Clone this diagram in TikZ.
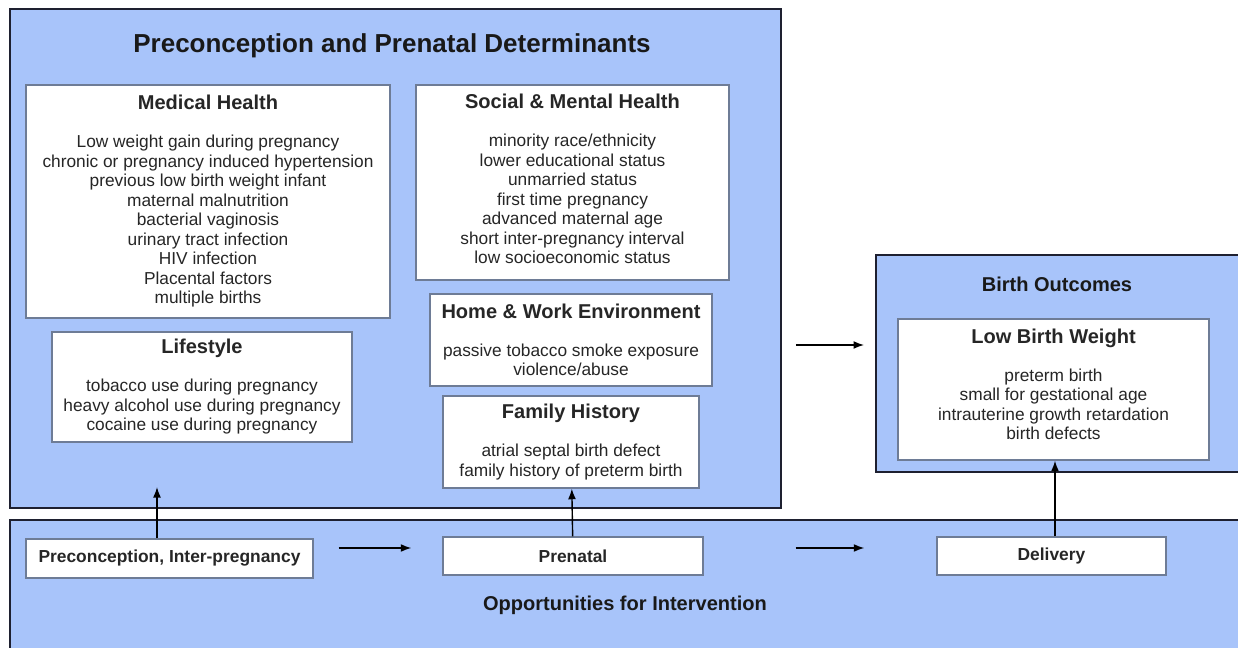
\documentclass[tikz,border=0pt]{standalone}
\usepackage{fontspec}
\setmainfont{Liberation Sans}
\usetikzlibrary{arrows.meta}

\definecolor{panelblue}{RGB}{168,196,250}
\definecolor{boxline}{RGB}{110,124,150}
\definecolor{darkline}{RGB}{30,32,48}
\newcommand{\boxhead}[1]{{\fontsize{11.4}{13}\selectfont\bfseries #1}}

\begin{document}
\begin{tikzpicture}[x=0.02cm, y=-0.02cm,
                    panel/.style={draw=darkline,line width=1.1pt,fill=panelblue,inner sep=0pt},
                    box/.style={draw=boxline,line width=0.8pt,fill=white,align=center,inner sep=0pt,
                                text=black!85,font=\fontsize{9.85}{11.1}\selectfont},
                    small box/.style={box,font=\fontsize{9.9}{11}\selectfont\bfseries},
                    big title/.style={font=\fontsize{14.8}{17}\selectfont\bfseries,text=black!90},
                    mid title/.style={font=\fontsize{11.4}{13}\selectfont\bfseries,text=black!90},
                    arr/.style={-{Latex[length=6pt,width=4.5pt]},line width=0.8pt}]

  \useasboundingbox (0,0) rectangle (1238,648);

  % the two background panels
  \node[panel,minimum width=15.42cm,minimum height=9.98cm] (det) at (395.5,258.5) {};
  \node[panel,minimum width=24.8cm,minimum height=2.8cm] (opp) at (630,590) {};
  \node[panel,minimum width=7.48cm,minimum height=4.34cm] (outc) at (1063,363.5) {};

  \node[big title] (dettitle) at (392,46) {Preconception and Prenatal Determinants};
  \node[mid title] (outctitle) at (1057,284) {Birth Outcomes};
  \node[mid title] (opptitle) at (625,605) {Opportunities for Intervention};

  % determinants
  \node[box,minimum width=7.28cm,minimum height=4.66cm] (med) at (208,201.5)
    {\boxhead{Medical Health}\\[10.5pt]
     Low weight gain during pregnancy\\ chronic or pregnancy induced hypertension\\
     previous low birth weight infant\\ maternal malnutrition\\ bacterial vaginosis\\
     urinary tract infection\\ HIV infection\\ Placental factors\\ multiple births};
  \node[box,minimum width=6.26cm,minimum height=3.9cm] (soc) at (572.5,182.5)
    {\boxhead{Social \& Mental Health}\\[10.5pt]
     minority race/ethnicity\\ lower educational status\\ unmarried status\\
     first time pregnancy\\ advanced maternal age\\ short inter-pregnancy interval\\
     low socioeconomic status\\[-7pt]\mbox{}};
  \node[box,minimum width=5.64cm,minimum height=1.84cm] (env) at (571,340)
    {\boxhead{Home \& Work Environment}\\[10.5pt]
     passive tobacco smoke exposure\\ violence/abuse};
  \node[box,minimum width=5.12cm,minimum height=1.84cm] (fam) at (571,442)
    {\boxhead{Family History}\\[10.5pt]
     atrial septal birth defect\\ family history of preterm birth};
  \node[box,minimum width=6.0cm,minimum height=2.2cm] (life) at (202,387)
    {\boxhead{Lifestyle}\\[10.5pt]
     tobacco use during pregnancy\\ heavy alcohol use during pregnancy\\
     cocaine use during pregnancy};

  % outcome
  \node[box,minimum width=6.22cm,minimum height=2.82cm] (lbw) at (1053.5,389.5)
    {\boxhead{Low Birth Weight}\\[10.5pt]
     preterm birth\\ small for gestational age\\ intrauterine growth retardation\\
     birth defects\\[-5.4pt]\mbox{}};

  % intervention stages
  \node[small box,minimum width=5.74cm,minimum height=0.78cm] (pcon) at (169.5,558.5) {Preconception, Inter-pregnancy};
  \node[small box,minimum width=5.2cm,minimum height=0.76cm] (pren) at (573,556) {Prenatal};
  \node[small box,minimum width=4.58cm,minimum height=0.76cm] (deliv) at (1051.5,556) {Delivery};

  \coordinate (liferow) at (157,487);
  \coordinate (toprow) at (830,345);
  \coordinate (lowrow) at (830,548);

  \draw[arr] (pcon.north -| liferow) -- (liferow);
  \draw[arr] (pren) -- (fam);
  \draw[arr] (deliv.north -| 1055,0) -- (lbw.south -| 1055,0);
  \draw[arr,shorten <=0.5cm,shorten >=0.62cm] (pcon.east |- lowrow) -- (pren.west |- lowrow);
  \draw[arr,shorten <=1.84cm,shorten >=1.44cm] (pren.east |- lowrow) -- (deliv.west |- lowrow);
  \draw[arr,shorten <=0.28cm,shorten >=0.22cm] (det.east |- toprow) -- (outc.west |- toprow);

\end{tikzpicture}
\end{document}
